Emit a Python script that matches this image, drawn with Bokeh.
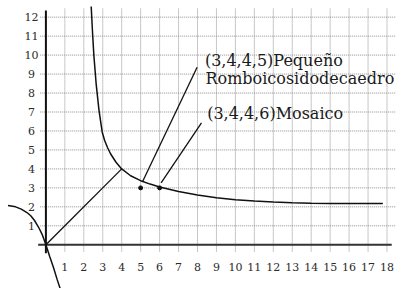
from bokeh.plotting import figure
from bokeh.models import Range1d
from bokeh.core.properties import value
from bokeh.embed import file_html
from bokeh.resources import INLINE

# ---- data ----
x_ticks = list(range(1, 19))
y_ticks = list(range(1, 13))
x_tick_labels = [str(v) for v in x_ticks]
y_tick_labels = [str(v) for v in y_ticks]

curve_x = [2.39, 2.46, 2.53, 2.65, 2.8, 2.97, 3.1, 3.25, 3.41, 3.7, 4.0, 4.47, 5.0, 5.5, 6.0,
           7.0, 8.0, 9.0, 10.0, 11.0, 12.0, 13.0, 14.0, 15.0, 16.0, 17.0, 17.78]
curve_y = [12.56, 11.2, 10.0, 8.5, 7.1, 5.95, 5.5, 5.13, 4.8, 4.35, 4.0, 3.64, 3.38, 3.2, 3.05,
           2.81, 2.63, 2.48, 2.38, 2.31, 2.25, 2.21, 2.19, 2.18, 2.18, 2.18, 2.18]

branch_x = [-2.0, -1.6, -1.3, -1.0, -0.8, -0.6, -0.4, -0.2, 0.0, 0.2, 0.4, 0.6, 0.75]
branch_y = [2.07, 2.0, 1.88, 1.7, 1.53, 1.28, 0.95, 0.55, 0.0, -0.62, -1.2, -1.85, -2.3]

diag_x = [0, 4]
diag_y = [0, 4]

point_x = [5, 6]
point_y = [3, 3]

pointer_x0 = [5.11, 6.08]
pointer_y0 = [3.35, 3.27]
pointer_x1 = [7.98, 8.21]
pointer_y1 = [9.36, 6.43]

label_x = [8.39, 8.42, 8.51]
label_y = [9.71, 8.75, 6.9]
label_text = ["(3,4,4,5)Pequeño", "Romboicosidodecaedro", "(3,4,4,6)Mosaico"]

x_axis_span = [-0.41, 18.25]
y_axis_span = [-0.45, 12.35]

SERIF = "DejaVu Serif"

# ---- figure ----
p = figure(width=402, height=288, output_backend="svg", toolbar_location=None,
           x_axis_location=None, y_axis_location=None,
           x_range=Range1d(-2.396, 18.818), y_range=Range1d(-2.304, 12.878),
           min_border=0, outline_line_color=None)
p.xgrid.visible = False
p.ygrid.visible = False
p.background_fill_color = "white"
p.border_fill_color = "white"

grid_color = "#8f8f8f"
# vertical grid lines
p.segment(x0=x_ticks, y0=[-0.35] * len(x_ticks), x1=x_ticks, y1=[12.45] * len(x_ticks),
          line_color=grid_color, line_width=1, line_dash="1 1")
# horizontal grid lines
p.segment(x0=[-0.3] * len(y_ticks), y0=y_ticks, x1=[18.45] * len(y_ticks), y1=y_ticks,
          line_color=grid_color, line_width=1, line_dash="1 1")

# axes
p.line(x=x_axis_span, y=[0, 0], line_color="#333333", line_width=2)
p.line(x=[0, 0], y=y_axis_span, line_color="#111111", line_width=2)

# tick labels
p.text(x=x_ticks, y=[-1.18] * len(x_ticks), text=x_tick_labels,
       text_font=value(SERIF), text_font_size="11px", text_color="#2b2b2b",
       text_align="center", text_baseline="alphabetic")
p.text(x=[-0.76] * len(y_ticks), y=y_ticks, text=y_tick_labels,
       text_font=value(SERIF), text_font_size="11px", text_color="#2b2b2b",
       text_align="center", text_baseline="middle")

# curves
p.line(x=curve_x, y=curve_y, line_color="#111111", line_width=1.5)
p.line(x=branch_x, y=branch_y, line_color="#111111", line_width=1.5)
p.line(x=diag_x, y=diag_y, line_color="#111111", line_width=1.3)

# pointer lines
p.segment(x0=pointer_x0, y0=pointer_y0, x1=pointer_x1, y1=pointer_y1,
          line_color="#111111", line_width=1.3)

# points
p.scatter(x=point_x, y=point_y, size=4, color="#111111")

# labels
p.text(x=label_x, y=label_y, text=label_text,
       text_font=value(SERIF), text_font_size="16px", text_color="#1a1a1a",
       text_align="left", text_baseline="alphabetic")

open("out.html", "w").write(file_html(p, INLINE))
